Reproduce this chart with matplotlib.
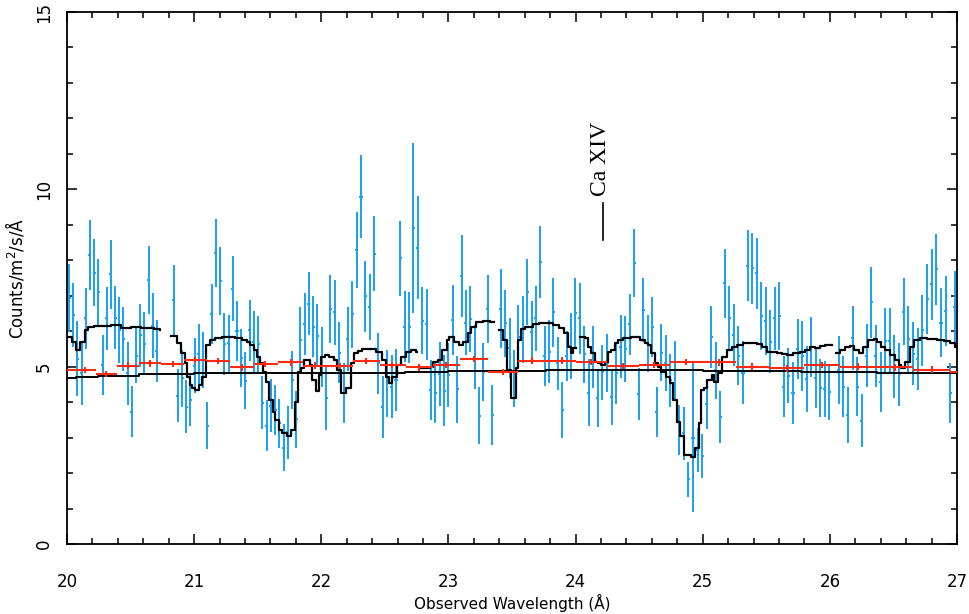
import matplotlib
matplotlib.use('Agg')
import matplotlib.pyplot as plt
import numpy as np

nan = np.nan

# Спектр: поток (синие точки) и ошибки, читаются по картинке
flux = [6.93, 6.46, 5.23, 4.81, 6.36, 8.15, 7.65, 7.10, 5.05, 6.36,
        7.60, 6.38, 6.03, 5.78, 4.81, 3.73, 5.31, 5.89, 5.65, 7.44,
        6.16, 5.45, nan, nan, nan, 6.88, 4.18, 4.67, 3.87, 4.06,
        5.03, 5.36, 5.19, 3.34, 6.48, 8.20, 7.42, 5.63, 5.66, 7.20,
        6.00, 5.25, 4.60, 6.03, 5.70, 5.64, 3.98, 3.34, 3.90, 3.78,
        3.40, 2.72, 3.15, 4.62, 3.52, 5.75, 6.20, 6.77, 6.13, 5.87,
        5.28, 4.11, 6.63, 6.53, 5.39, 4.25, 5.78, 6.48, 8.29, 9.79,
        6.99, 6.68, 8.18, 5.09, 3.87, 4.53, 4.44, 4.62, 8.05, 6.13,
        6.11, 8.90, 8.35, 6.30, 6.20, 4.34, 4.27, 4.80, 4.32, 4.77,
        6.32, 4.36, 7.56, 6.24, 6.34, 5.28, 3.62, 4.84, 6.62, 3.64,
        nan, 6.64, 6.22, 5.52, 4.67, 5.85, 6.05, 7.10, 5.99, 6.36,
        7.96, 5.31, 5.42, 6.53, 5.09, 3.78, 5.30, 5.58, 6.52, 6.36,
        5.35, 4.27, 5.28, 4.11, 4.84, 5.10, 4.14, 4.81, 5.56, 5.50,
        6.19, 7.93, 4.22, 6.60, 5.66, 6.11, 3.73, 5.39, 5.10, 4.62,
        4.90, 3.21, 3.12, 1.82, 3.00, 2.65, 2.48, 3.94, 5.83, 4.90,
        3.57, 7.35, 6.38, 5.89, 5.31, 4.83, 7.85, 7.77, 7.63, 6.43,
        6.29, 5.70, 6.36, 6.43, 4.44, 4.75, 4.25, 5.49, 5.30, 4.65,
        5.56, 4.69, 4.39, 4.37, 4.28, nan, 4.91, 4.44, 3.64, 5.82,
        4.44, 3.48, 5.31, 6.81, 5.31, 4.56, 5.73, 5.73, 5.00, 4.79,
        6.55, 5.77, 5.36, 5.22, 6.02, 6.90, 7.32, 7.74, 6.24, 6.57,
        4.25, 6.69, 6.36]

flux_err = [0.96, 0.90, 1.05, 0.90, 0.85, 0.99, 0.95, 0.94, 0.84, 0.89,
            0.96, 0.89, 0.94, 0.90, 0.89, 0.72, 0.78, 0.89, 0.88, 0.95,
            0.92, 0.87, nan, nan, nan, 0.99, 0.75, 0.80, 0.75, 0.72,
            0.78, 0.85, 0.80, 0.66, 0.85, 0.95, 0.96, 0.87, 0.80, 0.92,
            0.85, 0.82, 0.80, 0.86, 0.87, 0.80, 0.75, 0.73, 0.75, 0.70,
            0.70, 0.66, 0.75, 0.82, 0.80, 0.94, 0.87, 0.89, 0.87, 0.89,
            0.85, 0.89, 0.96, 0.92, 0.86, 0.84, 0.89, 0.94, 1.08, 1.17,
            1.00, 0.93, 1.06, 0.85, 0.87, 0.94, 0.90, 0.87, 1.07, 1.00,
            1.00, 2.40, 1.45, 0.95, 1.00, 0.85, 0.87, 0.90, 1.00, 0.90,
            0.99, 0.94, 1.15, 0.92, 0.94, 0.90, 0.80, 0.82, 0.96, 0.85,
            nan, 1.10, 0.95, 0.85, 0.80, 0.89, 0.95, 0.93, 0.87, 0.92,
            1.02, 0.85, 0.89, 0.97, 0.75, 0.80, 0.70, 0.93, 0.99, 0.99,
            0.80, 0.95, 0.87, 0.80, 0.77, 0.82, 0.78, 0.85, 0.89, 0.92,
            0.87, 0.96, 0.73, 0.91, 0.80, 0.85, 0.70, 0.80, 0.80, 0.75,
            0.82, 0.70, 0.75, 0.50, 2.10, 0.61, 0.61, 0.70, 0.87, 0.80,
            0.73, 0.97, 0.89, 0.88, 0.83, 0.88, 1.01, 0.99, 1.00, 0.95,
            0.95, 0.89, 0.90, 0.96, 0.87, 0.78, 0.87, 0.85, 1.00, 0.92,
            0.85, 0.85, 0.82, 0.80, 0.78, nan, 0.96, 0.85, 0.80, 0.90,
            0.84, 0.75, 0.88, 0.99, 0.87, 0.84, 0.92, 0.93, 0.88, 0.89,
            0.95, 0.95, 0.89, 0.87, 1.00, 0.99, 1.01, 1.00, 0.98, 1.00,
            0.85, 1.00, 1.00]

# опорные точки шкалы длин волн (номер бина -> Å)
grid_idx = [0, 30, 60, 89, 118, 146, 174, 201, 202]
grid_wave = [20.016, 21.004, 22.003, 23.0, 23.998, 24.995, 25.996, 26.984, 27.02]

# модель с линиями поглощения (ступеньки, nan = разрыв)
model_wave = [20.00, 20.042, 20.068, 20.102, 20.139, 20.165, 20.212, 20.343, 20.422, 20.50,
              20.58, 20.684, 20.731, 20.731,
              20.82, 20.868, 20.899, 20.925, 20.946, 20.967, 20.985, 21.004, 21.035, 21.062,
              21.093, 21.127, 21.161, 21.219, 21.324, 21.376, 21.416, 21.442, 21.468, 21.494,
              21.52, 21.541, 21.565, 21.591, 21.618, 21.638, 21.665, 21.691, 21.73, 21.764,
              21.791, 21.817, 21.843, 21.861, 21.888, 21.914, 21.927, 21.958, 21.985, 22.0,
              22.029, 22.061, 22.10, 22.126, 22.152, 22.192, 22.231, 22.257, 22.291, 22.323,
              22.428, 22.48, 22.506, 22.533, 22.559, 22.598, 22.624, 22.664, 22.703, 22.742,
              22.755, 22.755,
              22.775, 22.855, 22.881, 22.92, 22.947, 22.986, 23.007, 23.047, 23.086, 23.112,
              23.151, 23.178, 23.217, 23.27, 23.33, 23.361, 23.361,
              23.40, 23.427, 23.458, 23.492, 23.53, 23.545, 23.57, 23.60, 23.663, 23.715,
              23.768, 23.82, 23.872, 23.912, 23.938, 23.964, 23.977, 24.0, 24.0,
              24.035, 24.072, 24.098, 24.124, 24.15, 24.177, 24.203, 24.229, 24.255, 24.282,
              24.308, 24.334, 24.373, 24.439, 24.504, 24.544, 24.57, 24.596, 24.622, 24.649,
              24.675, 24.714, 24.74, 24.767, 24.80, 24.825, 24.85, 24.905, 24.94, 24.97,
              24.99, 25.01, 25.037, 25.071, 25.089, 25.123, 25.149, 25.189, 25.228, 25.267,
              25.32, 25.372, 25.425, 25.464, 25.503, 25.543, 25.582, 25.621, 25.661, 25.713,
              25.766, 25.805, 25.844, 25.884, 25.923, 25.962, 26.02, 26.02,
              26.051, 26.083, 26.122, 26.162, 26.193, 26.227, 26.261, 26.298, 26.345, 26.371,
              26.403, 26.437, 26.476, 26.515, 26.542, 26.56, 26.594, 26.628, 26.665, 26.712,
              26.765, 26.843, 26.896, 26.948, 26.987, 27.0]
model_flux = [5.85, 5.70, 5.47, 5.70, 6.03, 6.13, 6.16, 6.17, 6.10, 6.13,
              6.10, 6.06, 6.03, nan,
              5.86, 5.66, 5.38, 5.09, 4.72, 4.48, 4.39, 4.34, 4.48, 4.72,
              5.61, 5.75, 5.82, 5.85, 5.80, 5.75, 5.70, 5.61, 5.47, 5.28,
              5.09, 4.86, 4.58, 4.06, 3.73, 3.50, 3.21, 3.12, 3.05, 3.21,
              4.01, 4.86, 4.95, 5.20, 5.18, 5.05, 4.62, 4.30, 4.77, 5.28,
              5.33, 5.28, 5.19, 4.90, 4.25, 4.39, 5.09, 5.38, 5.45, 5.49,
              5.42, 5.19, 4.72, 4.53, 4.72, 5.05, 5.28, 5.42, 5.47, 5.40,
              5.40, nan,
              4.95, 4.98, 5.14, 5.19, 5.47, 5.75, 5.85, 5.70, 5.61, 5.70,
              5.94, 6.13, 6.27, 6.30, 6.25, 6.25, nan,
              6.03, 5.75, 4.90, 4.11, 4.95, 5.75, 6.05, 6.13, 6.19, 6.24,
              6.22, 6.17, 6.08, 5.94, 5.56, 5.39, 5.52, 5.52, nan,
              5.85, 5.80, 5.56, 5.38, 5.14, 5.09, 5.05, 5.14, 5.42, 5.47,
              5.66, 5.75, 5.82, 5.83, 5.75, 5.68, 5.61, 5.38, 5.09, 5.00,
              4.86, 4.72, 4.53, 4.06, 3.45, 3.05, 2.51, 2.46, 2.70, 3.40,
              4.34, 4.39, 4.62, 4.77, 4.58, 4.81, 5.28, 5.47, 5.56, 5.61,
              5.66, 5.68, 5.64, 5.56, 5.42, 5.40, 5.38, 5.36, 5.33, 5.38,
              5.42, 5.47, 5.56, 5.53, 5.58, 5.61, 5.61, nan,
              5.38, 5.47, 5.56, 5.58, 5.47, 5.38, 5.56, 5.75, 5.77, 5.70,
              5.56, 5.47, 5.33, 5.19, 5.05, 4.95, 5.14, 5.56, 5.75, 5.80,
              5.78, 5.75, 5.73, 5.68, 5.56, 5.56]

# континуум
cont_wave = [20.0, 20.07, 20.24, 20.57, 21.0, 21.98, 22.66, 23.0, 23.77, 25.0, 25.77, 26.37, 27.0]
cont_flux = [4.67, 4.72, 4.75, 4.79, 4.81, 4.83, 4.86, 4.89, 4.90, 4.89, 4.86, 4.82, 4.82]

# модель, сгруппированная по широким бинам (красные)
red_wave = [20.14, 20.31, 20.48, 20.65, 20.83, 21.01, 21.19, 21.38, 21.56, 21.76,
            21.95, 22.145, 22.355, 22.56, 22.77, 22.98, 23.20, 23.43, 23.66, 23.89,
            24.12, 24.37, 24.62, 24.87, 25.13, 25.39, 25.66, 25.94, 26.22, 26.51,
            26.80, 27.09]
red_flux = [4.90, 4.79, 5.03, 5.09, 5.08, 5.19, 5.16, 4.98, 5.08, 5.12,
            5.03, 5.02, 5.16, 5.05, 4.98, 5.05, 5.22, 4.85, 5.17, 5.17,
            5.14, 5.02, 5.05, 5.14, 5.12, 5.00, 4.95, 5.05, 5.00, 4.98,
            4.92, 4.86]
red_edges = [19.97, 20.225, 20.395, 20.565, 20.74, 20.92, 21.10, 21.285, 21.47, 21.66,
             21.855, 22.05, 22.25, 22.46, 22.665, 22.875, 23.09, 23.315, 23.545, 23.775,
             24.005, 24.245, 24.495, 24.745, 25.0, 25.26, 25.525, 25.80, 26.08, 26.365,
             26.655, 26.945, 27.25]

line_label = 'Ca XIV'
line_wave = 24.216


def plot_chart():
    wave = np.interp(np.arange(len(flux)), grid_idx, grid_wave)

    fig = plt.figure(figsize=(9.7, 6.14), dpi=100)
    ax = fig.add_axes([67 / 970, 1 - 544 / 614, 890 / 970, 532 / 614])

    ax.errorbar(wave, flux, yerr=flux_err, xerr=0.012, fmt='none',
                ecolor='#1aa0f2', elinewidth=1.4, capsize=0, zorder=2)

    ax.plot(cont_wave, cont_flux, color='black', lw=1.4, drawstyle='steps-post', zorder=3)
    ax.plot(model_wave, model_flux, color='black', lw=1.6, drawstyle='steps-post', zorder=4)

    rw = np.array(red_wave)
    lo = np.array(red_edges[:-1])
    hi = np.array(red_edges[1:])
    ax.errorbar(rw, red_flux, xerr=[rw - lo, hi - rw], yerr=0.09, fmt='none',
                ecolor='#ff2a14', elinewidth=1.5, capsize=0, zorder=5)

    # отметка линии
    ax.plot([line_wave, line_wave], [8.57, 9.61], color='black', lw=1.2)
    ax.text(line_wave - 0.02, 9.8, line_label, rotation=90, ha='center', va='bottom',
            family='Liberation Serif', fontsize=17)

    ax.set_xlim(20, 27)
    ax.set_ylim(0, 15)
    ax.set_xticks(np.arange(20, 28, 1))
    ax.set_xticks(np.arange(20, 27.01, 0.2), minor=True)
    ax.set_yticks([0, 5, 10, 15])
    ax.set_yticks(np.arange(0, 16, 1), minor=True)
    ax.tick_params(which='both', direction='in', top=True, right=True, width=1.1)
    ax.tick_params(which='major', length=7.5)
    ax.tick_params(which='minor', length=4)
    ax.tick_params(axis='x', labelsize=12, pad=21)
    ax.tick_params(axis='y', labelsize=12, pad=10)
    for lab in ax.get_yticklabels():
        lab.set_rotation(90)
        lab.set_va('center')
    for s in ax.spines.values():
        s.set_linewidth(1.3)

    ax.set_xlabel('Observed Wavelength (Å)', fontsize=11, labelpad=2)
    ax.set_ylabel('Counts/m$^2$/s/Å', fontsize=12, labelpad=6)

    fig.savefig('out.png', dpi=100)


plot_chart()
